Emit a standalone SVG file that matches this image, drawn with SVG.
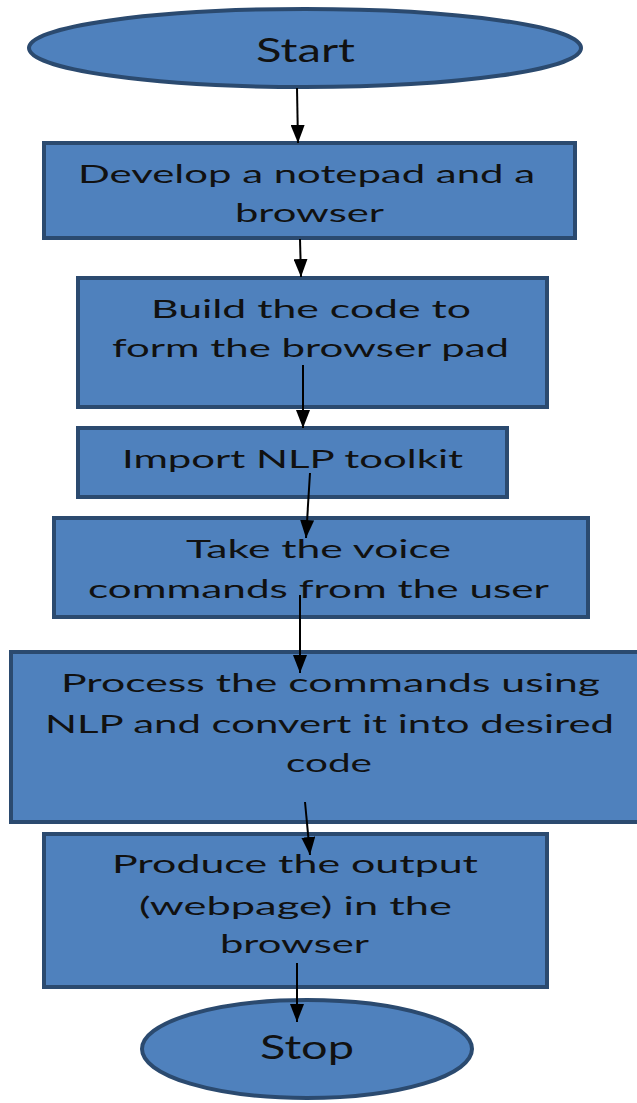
<svg xmlns="http://www.w3.org/2000/svg" width="637" height="1103" viewBox="0 0 637 1103">
<style>
.shape{fill:#4F81BD;stroke:#2B4A6F;stroke-width:4}
.t{font-family:Lato,"Open Sans","Liberation Sans",sans-serif;font-size:25px;fill:#111}
.big{font-size:32px}
.conn{stroke:#000;stroke-width:2;fill:none;marker-end:url(#ah)}
</style>
<defs>
<marker id="ah" markerUnits="userSpaceOnUse" markerWidth="18" markerHeight="14" refX="18" refY="7" orient="auto">
<polygon points="0,0 18,7 0,14" fill="#000"/>
</marker>
</defs>
<rect width="637" height="1103" fill="#fff"/>
<g id="start">
<ellipse class="shape" cx="305" cy="48" rx="276" ry="39"/>
<text class="t big" x="256" y="62" textLength="99" lengthAdjust="spacingAndGlyphs">Start</text>
</g>
<g id="develop">
<rect class="shape" x="44" y="143" width="531" height="95"/>
<text class="t" x="78" y="183" textLength="457" lengthAdjust="spacingAndGlyphs">Develop a notepad and a</text>
<text class="t" x="235" y="222" textLength="149" lengthAdjust="spacingAndGlyphs">browser</text>
</g>
<g id="build">
<rect class="shape" x="78" y="278" width="469" height="129"/>
<text class="t" x="151" y="318" textLength="320" lengthAdjust="spacingAndGlyphs">Build the code to</text>
<text class="t" x="112" y="357" textLength="397" lengthAdjust="spacingAndGlyphs">form the browser pad</text>
</g>
<g id="import">
<rect class="shape" x="78" y="428" width="429" height="69"/>
<text class="t" x="122" y="468" textLength="341" lengthAdjust="spacingAndGlyphs">Import NLP toolkit</text>
</g>
<g id="take">
<rect class="shape" x="54" y="518" width="534" height="99"/>
<text class="t" x="186" y="558" textLength="265" lengthAdjust="spacingAndGlyphs">Take the voice</text>
<text class="t" x="88" y="598" textLength="461" lengthAdjust="spacingAndGlyphs">commands from the user</text>
</g>
<g id="process">
<rect class="shape" x="11" y="652" width="640" height="170"/>
<text class="t" x="61" y="692" textLength="539" lengthAdjust="spacingAndGlyphs">Process the commands using</text>
<text class="t" x="45" y="733" textLength="569" lengthAdjust="spacingAndGlyphs">NLP and convert it into desired</text>
<text class="t" x="286" y="772" textLength="86" lengthAdjust="spacingAndGlyphs">code</text>
</g>
<g id="produce">
<rect class="shape" x="44" y="834" width="503" height="153"/>
<text class="t" x="112" y="873" textLength="366" lengthAdjust="spacingAndGlyphs">Produce the output</text>
<text class="t" x="139" y="915" textLength="313" lengthAdjust="spacingAndGlyphs">(webpage) in the</text>
<text class="t" x="220" y="953" textLength="149" lengthAdjust="spacingAndGlyphs">browser</text>
</g>
<g id="stop">
<ellipse class="shape" cx="307" cy="1049" rx="165" ry="49"/>
<text class="t big" x="260" y="1059" textLength="94" lengthAdjust="spacingAndGlyphs">Stop</text>
</g>
<g id="connectors">
<line class="conn" x1="297" y1="88" x2="298" y2="143"/>
<line class="conn" x1="300" y1="239" x2="301" y2="277"/>
<line class="conn" x1="303" y1="365" x2="303" y2="428"/>
<line class="conn" x1="310" y1="473" x2="306" y2="538"/>
<line class="conn" x1="300" y1="595" x2="300" y2="673"/>
<line class="conn" x1="305" y1="802" x2="310" y2="855"/>
<line class="conn" x1="297" y1="963" x2="297" y2="1022"/>
</g>
</svg>
